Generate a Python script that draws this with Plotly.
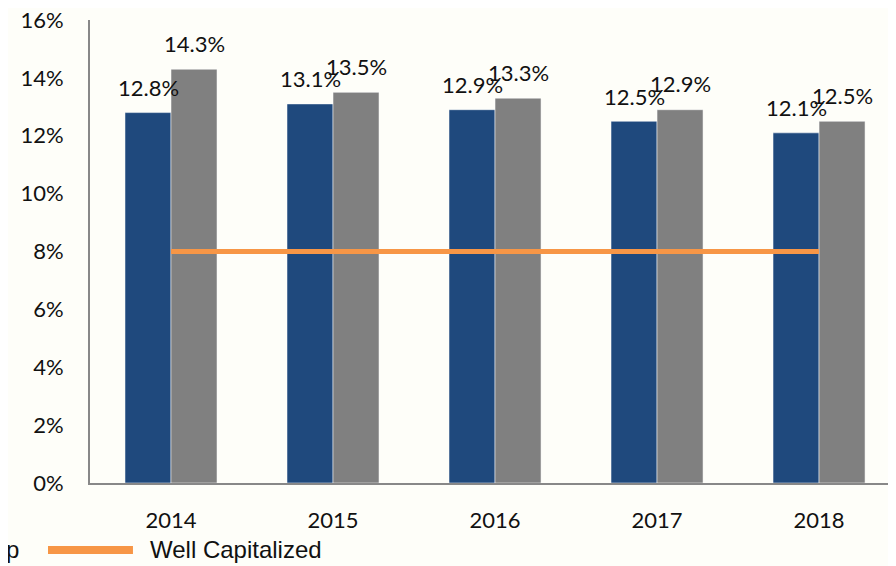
import plotly.graph_objects as go

years = ["2014", "2015", "2016", "2017", "2018"]
peer_values = [12.8, 13.1, 12.9, 12.5, 12.1]
company_values = [14.3, 13.5, 13.3, 12.9, 12.5]
well_capitalized = [8, 8, 8, 8, 8]
peer_name = "Peer Group"
company_name = "Bancorp"
line_name = "Well Capitalized"
y_ticks = [0, 2, 4, 6, 8, 10, 12, 14, 16]
y_tick_labels = [f"{v}%" for v in y_ticks]

BLUE = "#1F497D"
GRAY = "#808080"
ORANGE = "#F79646"
BG = "#FEFEF9"
LABEL_FONT = dict(family="Lato", size=22, color="#111111")
LEGEND_FONT = dict(family="Liberation Sans", size=24, color="#111111")

fig = go.Figure()
fig.add_trace(go.Bar(x=years, y=peer_values, name=peer_name, marker_color=BLUE,
                     marker_line=dict(color="rgba(255,255,255,0.5)", width=1)))
fig.add_trace(go.Bar(x=years, y=company_values, name=company_name, marker_color=GRAY,
                     marker_line=dict(color="rgba(255,255,255,0.5)", width=1)))
fig.add_trace(go.Scatter(x=years, y=well_capitalized, mode="lines", name=line_name,
                         line=dict(color=ORANGE, width=5)))

# data labels (x given as category index)
for i, v in enumerate(peer_values):
    fig.add_annotation(x=i, y=v, xref="x", yref="y", text=f"{v:.1f}%", showarrow=False,
                       xshift=-23, yshift=25, yanchor="middle", font=LABEL_FONT)
for i, v in enumerate(company_values):
    fig.add_annotation(x=i, y=v, xref="x", yref="y", text=f"{v:.1f}%", showarrow=False,
                       xshift=23, yshift=26, yanchor="middle", font=LABEL_FONT)

# legend row (partly cut off at the left edge, as in the reference)
LEG_Y = -0.1447
fig.add_shape(type="line", xref="paper", yref="paper", x0=-0.0521, x1=0.0533,
              y0=LEG_Y, y1=LEG_Y, line=dict(color=ORANGE, width=8))
fig.add_annotation(xref="paper", yref="paper", x=0.072, y=LEG_Y, text=line_name,
                   showarrow=False, xanchor="left", yanchor="middle", font=LEGEND_FONT)
fig.add_annotation(xref="paper", yref="paper", x=-0.0856, y=LEG_Y, text=company_name,
                   showarrow=False, xanchor="right", yanchor="middle", font=LEGEND_FONT)

fig.update_layout(
    width=896, height=566,
    margin=dict(l=82, r=8, t=12, b=91, autoexpand=False),
    paper_bgcolor=BG, plot_bgcolor=BG,
    barmode="group", bargap=0.432, bargroupgap=0,
    showlegend=False,
    xaxis=dict(type="category", range=[-0.5, 4.475], showline=True, linecolor="#888888",
               linewidth=2, ticks="", showgrid=False, zeroline=False,
               tickfont=dict(family="Lato", size=22, color="#111111"),
               ticklabelstandoff=17),
    yaxis=dict(range=[0, 16], tickvals=y_ticks, ticktext=y_tick_labels, showline=True,
               linecolor="#888888", linewidth=2, ticks="", showgrid=False, zeroline=False,
               tickfont=dict(family="Lato", size=22, color="#111111"),
               ticklabelstandoff=20, ticklabeloverflow="allow"),
)

fig.write_html("out.html")
